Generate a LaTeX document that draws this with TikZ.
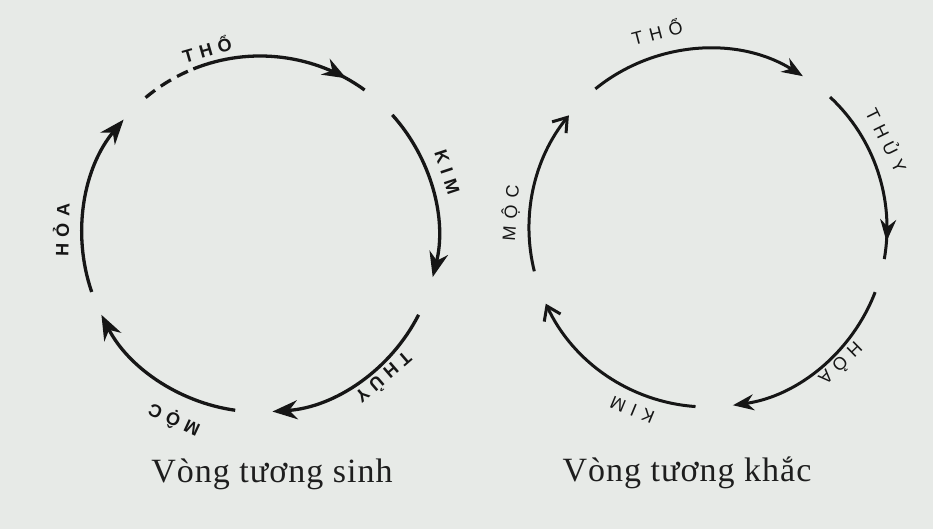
\documentclass[tikz,border=0pt]{standalone}
\usepackage{fontspec}
\setmainfont{Liberation Serif}
\newfontfamily\lblfont[LetterSpace=34]{Liberation Sans Bold}
\newfontfamily\lblfontr[LetterSpace=38]{Liberation Sans}
\newfontfamily\capfont[LetterSpace=3]{Liberation Serif}
\usetikzlibrary{arrows.meta,calc,decorations.markings}
\definecolor{paper}{RGB}{231,234,231}
\definecolor{ink}{RGB}{22,22,22}
\definecolor{capink}{RGB}{30,30,30}
\begin{document}
\begin{tikzpicture}[x=1pt,y=1pt,
  arcline/.style={color=ink, line width=3.3pt},
  arclinethin/.style={color=ink, line width=3pt},
  bigtip/.style={-{Stealth[length=25pt,width=19pt]}},
  midtip/.style={-{Stealth[length=21pt,width=16pt]}},
  barbtip/.style={-{Straight Barb[length=13pt,width=18pt,line width=3pt]}},
  lbl/.style={text=ink, font=\lblfont\fontsize{18}{18}\selectfont, inner sep=0pt},
  lblr/.style={text=ink, font=\lblfontr\fontsize{18}{18}\selectfont, inner sep=0pt},
  caption/.style={text=capink, font=\capfont\fontsize{34}{34}\selectfont, inner sep=0pt, anchor=base}]
\fill[paper] (0,0) rectangle (933,529);
\useasboundingbox (0,0) rectangle (933,529);

% ---------- left circle: Vong tuong sinh ----------
\coordinate (LC) at (260,295);
\draw[arcline, dash pattern=on 12pt off 7pt] ($(LC)+(130:178pt)$) arc[start angle=130, end angle=112, radius=178pt];
\draw[arcline, postaction={decorate}, decoration={markings, mark=at position 0.88 with {\arrow{Stealth[length=24pt,width=18pt]}}}]
  ($(LC)+(112:178pt)$) arc[start angle=112, end angle=54, radius=178pt];
\draw[arcline, bigtip] ($(LC)+(42:178pt)$) arc[start angle=42, end angle=-14, radius=178pt];
\draw[arcline, bigtip] ($(LC)+(-27:178pt)$) arc[start angle=-27, end angle=-86, radius=178pt];
\draw[arcline, bigtip] ($(LC)+(-98:178pt)$) arc[start angle=-98, end angle=-153, radius=178pt];
\draw[arcline, bigtip] ($(LC)+(199:178pt)$) arc[start angle=199, end angle=140, radius=178pt];

\node[lbl, rotate=16] (ltho) at ($(LC)+(106:193pt)$) {THỔ};
\node[lbl, rotate=-71.7] (lkim) at ($(LC)+(18.3:197pt)$) {KIM};
\node[lbl, rotate=-139.3] (lthuy) at ($(LC)+(-49.3:191pt)$) {THỦY};
\node[lbl, rotate=155.2] (lmoc) at ($(LC)+(-114.8:205pt)$) {MỘC};
\node[lbl, rotate=88.8] (lhoa) at ($(LC)+(178.8:199pt)$) {HỎA};

\node[caption] (lcap) at (272,46) {Vòng tương sinh};

% ---------- right circle: Vong tuong khac ----------
\coordinate (RC) at (708,301);
\draw[arclinethin, midtip] ($(RC)+(129:179pt)$) arc[start angle=129, end angle=58, radius=179pt];
\draw[arclinethin, postaction={decorate}, decoration={markings, mark=at position 0.9 with {\arrow{Stealth[length=22pt,width=16pt]}}}]
  ($(RC)+(47:179pt)$) arc[start angle=47, end angle=-10, radius=179pt];
\draw[arclinethin, midtip] ($(RC)+(-21:179pt)$) arc[start angle=-21, end angle=-82, radius=179pt];
\draw[arclinethin, barbtip] ($(RC)+(-94:179pt)$) arc[start angle=-94, end angle=-155, radius=179pt];
\draw[arclinethin, barbtip] ($(RC)+(194:179pt)$) arc[start angle=194, end angle=141, radius=179pt];

\node[lblr, rotate=14.6] (rtho) at ($(RC)+(104.6:203pt)$) {THỔ};
\node[lblr, rotate=-63.8] (rthuy) at ($(RC)+(26.2:200pt)$) {THỦY};
\node[lblr, rotate=-135.6] (rhoa) at ($(RC)+(-45.6:191pt)$) {HỎA};
\node[lblr, rotate=157.4] (rkim) at ($(RC)+(-112.6:197pt)$) {KIM};
\node[lblr, rotate=85.6] (rmoc) at ($(RC)+(175.6:198pt)$) {MỘC};

\node[caption] (rcap) at (687,47) {Vòng tương khắc};
\end{tikzpicture}
\end{document}
